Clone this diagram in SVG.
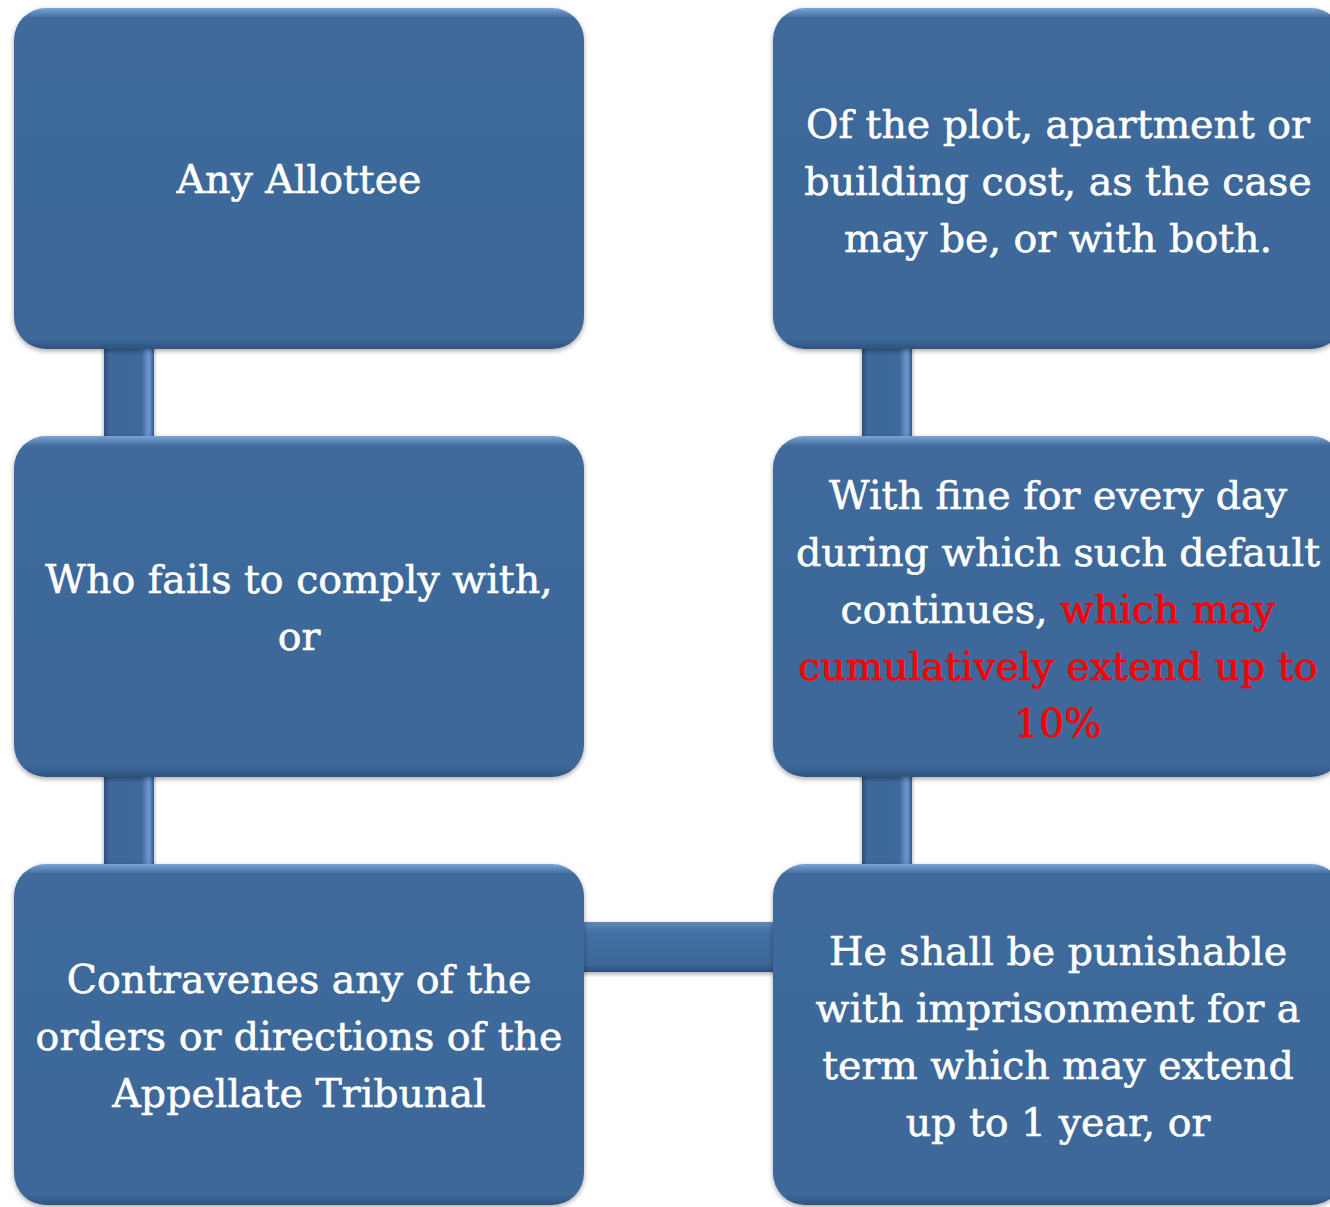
<svg xmlns="http://www.w3.org/2000/svg" width="1330" height="1207" viewBox="0 0 1330 1207">
<defs>
<filter id="sh" x="-5%" y="-5%" width="110%" height="115%">
<feDropShadow dx="0" dy="2" stdDeviation="2.5" flood-color="#000" flood-opacity="0.35"/>
</filter>
<linearGradient id="bev" x1="0" y1="0" x2="0" y2="1">
<stop offset="0" stop-color="#7aa3d8"/>
<stop offset="0.03" stop-color="#3f6a9c"/>
<stop offset="0.97" stop-color="#3c6798"/>
<stop offset="1" stop-color="#2e5380"/>
</linearGradient>
<linearGradient id="vbar" x1="0" y1="0" x2="1" y2="0">
<stop offset="0" stop-color="#2c4e78"/>
<stop offset="0.1" stop-color="#3c6798"/>
<stop offset="0.75" stop-color="#3f6a9c"/>
<stop offset="0.9" stop-color="#6f9ad0"/>
<stop offset="1" stop-color="#34598a"/>
</linearGradient>
<linearGradient id="hbar" x1="0" y1="0" x2="0" y2="1">
<stop offset="0" stop-color="#5d88c0"/>
<stop offset="0.2" stop-color="#4470a3"/>
<stop offset="0.85" stop-color="#3c6798"/>
<stop offset="1" stop-color="#2c4e78"/>
</linearGradient>
</defs>
<style>
.box{fill:url(#bev);filter:url(#sh)}
.t{font-family:"DejaVu Serif","Liberation Serif",serif;font-size:39.5px;fill:#fff;stroke:#fff;stroke-width:0.6;text-anchor:middle}
.r{fill:#ff0000;stroke:#ff0000}
</style>
<rect width="1330" height="1207" fill="#fff"/>
<g id="connectors">
<rect x="104" y="340" width="50" height="105" fill="url(#vbar)" filter="url(#sh)"/>
<rect x="104" y="768" width="50" height="105" fill="url(#vbar)" filter="url(#sh)"/>
<rect x="862" y="340" width="50" height="105" fill="url(#vbar)" filter="url(#sh)"/>
<rect x="862" y="768" width="50" height="105" fill="url(#vbar)" filter="url(#sh)"/>
<rect x="575" y="922" width="207" height="50" fill="url(#hbar)" filter="url(#sh)"/>
</g>
<g id="n1">
<rect class="box" x="14" y="8" width="570" height="341" rx="32"/>
<text class="t" x="299" y="193">Any Allottee</text>
</g>
<g id="n2">
<rect class="box" x="14" y="436" width="570" height="341" rx="32"/>
<text class="t" x="299" y="593">Who fails to comply with,</text>
<text class="t" x="299" y="650">or</text>
</g>
<g id="n3">
<rect class="box" x="14" y="864" width="570" height="341" rx="32"/>
<text class="t" x="299" y="993">Contravenes any of the</text>
<text class="t" x="299" y="1050">orders or directions of the</text>
<text class="t" x="299" y="1107">Appellate Tribunal</text>
</g>
<g id="n4">
<rect class="box" x="773" y="864" width="570" height="341" rx="32"/>
<text class="t" x="1058" y="965">He shall be punishable</text>
<text class="t" x="1058" y="1022">with imprisonment for a</text>
<text class="t" x="1058" y="1079">term which may extend</text>
<text class="t" x="1058" y="1136">up to 1 year, or</text>
</g>
<g id="n5">
<rect class="box" x="773" y="436" width="570" height="341" rx="32"/>
<text class="t" x="1058" y="509">With fine for every day</text>
<text class="t" x="1058" y="566">during which such default</text>
<text class="t" x="1058" y="623">continues, <tspan class="r">which may</tspan></text>
<text class="t r" x="1058" y="680">cumulatively extend up to</text>
<text class="t r" x="1058" y="737">10%</text>
</g>
<g id="n6">
<rect class="box" x="773" y="8" width="570" height="341" rx="32"/>
<text class="t" x="1058" y="138">Of the plot, apartment or</text>
<text class="t" x="1058" y="195">building cost, as the case</text>
<text class="t" x="1058" y="252">may be, or with both.</text>
</g>
</svg>
